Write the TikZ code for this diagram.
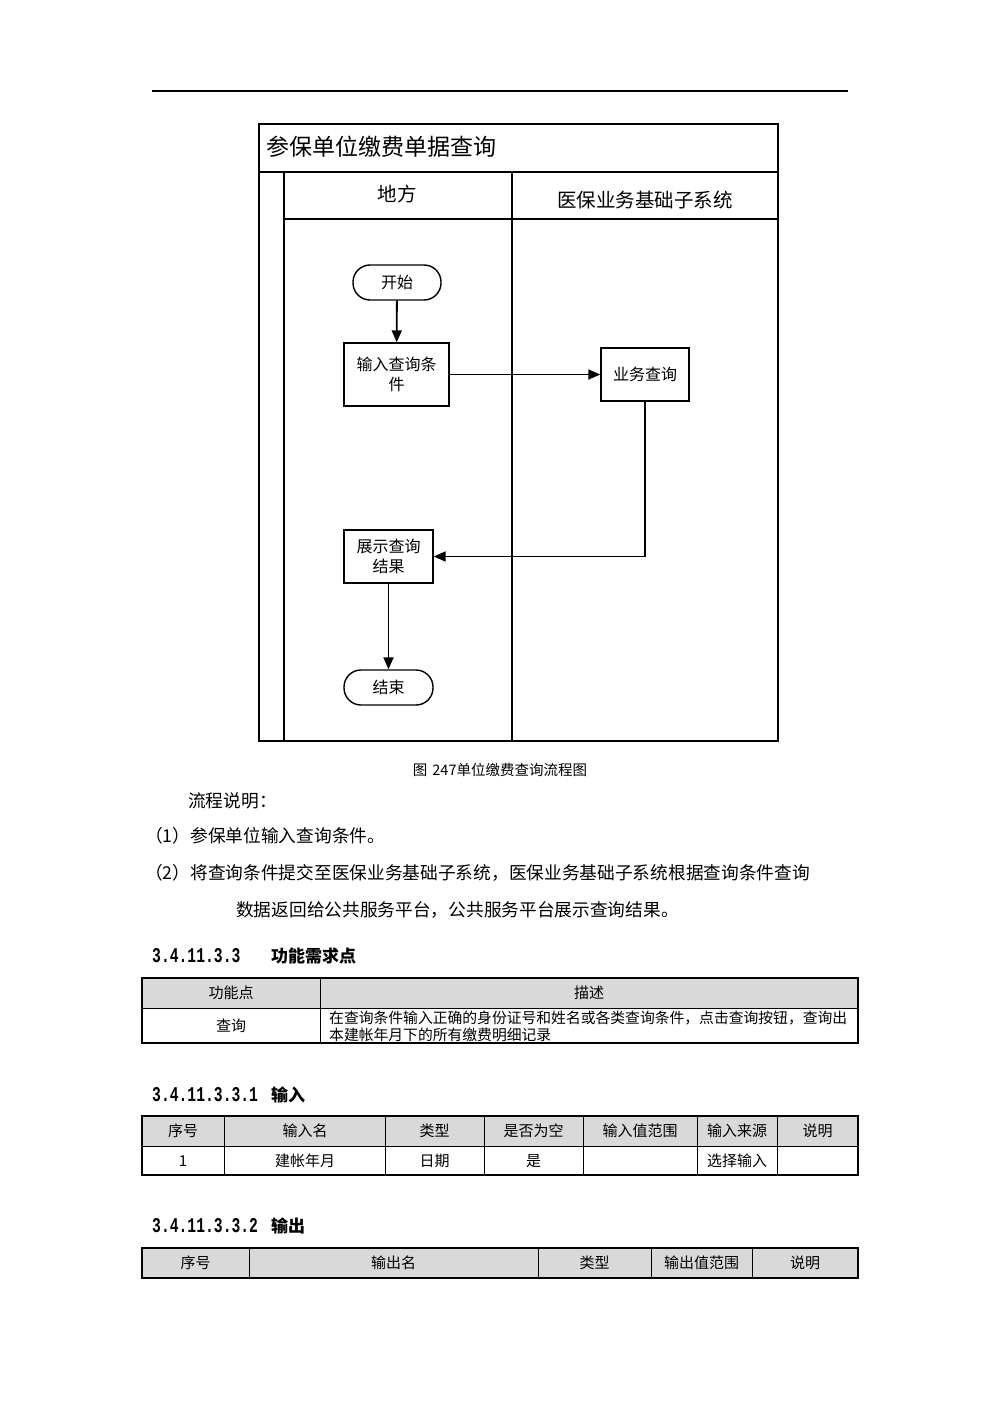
\documentclass[tikz,border=0pt]{standalone}
\usepackage{fontspec}
\setmainfont{Noto Sans CJK SC}
\newfontfamily\numfont[FakeStretch=0.7]{Liberation Mono}
\usetikzlibrary{arrows.meta,positioning}

\begin{document}
\begin{tikzpicture}[x=1pt,y=-1pt,>={Triangle[length=12pt,width=10pt]},
lane/.style={line width=1.4pt},
tab/.style={line width=1pt},
flow/.style={->,line width=1.8pt},
main node/.style={rectangle,draw,line width=1.4pt,align=center,inner sep=0pt,font=\fontsize{16}{20}\selectfont},
end node/.style={main node,rounded corners=17pt,minimum width=88pt,minimum height=35pt},
body/.style={anchor=west,inner sep=0pt,font=\fontsize{17.7}{20}\selectfont},
cell/.style={inner sep=0pt,font=\fontsize{15}{17}\selectfont},
head/.style={anchor=west,inner sep=0pt,font=\fontsize{17}{20}\selectfont\bfseries},
headnum/.style={anchor=west,inner sep=0pt,font=\fontsize{21}{22}\selectfont\numfont\bfseries}]

\useasboundingbox (0,0) rectangle (1000,1415);
\fill[white] (0,0) rectangle (1000,1415);
\draw[line width=1.3pt] (152,91) -- (848,91);

% swimlanes
\draw[lane] (259,124) rectangle (778,741);
\draw[lane] (259,172) -- (778,172);
\draw[lane] (284,172) -- (284,741);
\draw[lane] (512,172) -- (512,741);
\draw[lane] (284,219) -- (778,219);
\node[anchor=west,inner sep=0pt,font=\fontsize{23}{26}\selectfont] (title) at (266,147) {参保单位缴费单据查询};
\node[font=\fontsize{19.5}{22}\selectfont] (lane1) at (397,194) {地方};
\node[font=\fontsize{19.5}{22}\selectfont] (lane2) at (645,200) {医保业务基础子系统};

\node[end node] (1) at (397,282.5) {开始};
\node[main node,minimum width=105pt,minimum height=63pt] (2) at (396.5,374.5) {输入查询条\\件};
\node[main node,minimum width=88pt,minimum height=53pt] (3) at (645,374.5) {业务查询};
\node[main node,minimum width=89pt,minimum height=53pt] (4) at (388.5,556.5) {展示查询\\结果};
\node[end node,minimum width=89pt] (5) at (388.5,687.5) {结束};

\path[flow]
(1) edge (2)
(2) edge (3)
(4) edge (5);
\draw[flow] (3) |- (4);

% text below
\node[font=\fontsize{14.5}{17}\selectfont] (cap) at (500,770) {图\hspace{5pt}247单位缴费查询流程图};
\node[body] (p0) at (188,801) {流程说明：};
\node[body] (p1) at (145,836) {（1）参保单位输入查询条件。};
\node[body] (p2) at (145,873) {（2）将查询条件提交至医保业务基础子系统，医保业务基础子系统根据查询条件查询};
\node[body] (p3) at (236,910) {数据返回给公共服务平台，公共服务平台展示查询结果。};

\node[headnum] (h1n) at (152,956) {3.4.11.3.3};
\node[head] (h1) at (271,956) {功能需求点};

% table 1
\fill[gray!30] (142,978) rectangle (858,1008);
\draw[tab] (142,1008) -- (858,1008);
\draw[tab] (320,978) -- (320,1043);
\draw[line width=1.4pt] (142,978) rectangle (858,1043);
\node[cell] (f1) at (231,993) {功能点};
\node[cell] (f2) at (589,993) {描述};
\node[cell] (f3) at (231,1026) {查询};
\node[cell,anchor=west,font=\fontsize{14.8}{17}\selectfont] (f4) at (329,1018) {在查询条件输入正确的身份证号和姓名或各类查询条件，点击查询按钮，查询出};
\node[cell,anchor=west,font=\fontsize{14.8}{17}\selectfont] (f5) at (329,1035) {本建帐年月下的所有缴费明细记录};

\node[headnum] (h2n) at (152,1095) {3.4.11.3.3.1};
\node[head] (h2) at (271,1095) {输入};

% table 2
\fill[gray!30] (142,1116) rectangle (858,1146);
\draw[tab] (142,1146) -- (858,1146);
\draw[tab] (224,1116) -- (224,1175);
\draw[tab] (385,1116) -- (385,1175);
\draw[tab] (484,1116) -- (484,1175);
\draw[tab] (583,1116) -- (583,1175);
\draw[tab] (697,1116) -- (697,1175);
\draw[tab] (777,1116) -- (777,1175);
\draw[line width=1.4pt] (142,1116) rectangle (858,1175);
\node[cell] (i1) at (183,1131) {序号};
\node[cell] (i2) at (305,1131) {输入名};
\node[cell] (i3) at (434.5,1131) {类型};
\node[cell] (i4) at (533.5,1131) {是否为空};
\node[cell] (i5) at (640,1131) {输入值范围};
\node[cell] (i6) at (737,1131) {输入来源};
\node[cell] (i7) at (817.5,1131) {说明};
\node[cell] (r1) at (183,1161) {1};
\node[cell] (r2) at (305,1161) {建帐年月};
\node[cell] (r3) at (434.5,1161) {日期};
\node[cell] (r4) at (533.5,1161) {是};
\node[cell] (r6) at (737,1161) {选择输入};

\node[headnum] (h3n) at (152,1226) {3.4.11.3.3.2};
\node[head] (h3) at (271,1226) {输出};

% table 3
\fill[gray!30] (142,1248) rectangle (858,1278);
\draw[tab] (249,1248) -- (249,1278);
\draw[tab] (538,1248) -- (538,1278);
\draw[tab] (651,1248) -- (651,1278);
\draw[tab] (752,1248) -- (752,1278);
\draw[line width=1.4pt] (142,1248) rectangle (858,1278);
\node[cell] (o1) at (195.5,1263) {序号};
\node[cell] (o2) at (393.5,1263) {输出名};
\node[cell] (o3) at (594.5,1263) {类型};
\node[cell] (o4) at (701.5,1263) {输出值范围};
\node[cell] (o5) at (805,1263) {说明};
\end{tikzpicture}
\end{document}
